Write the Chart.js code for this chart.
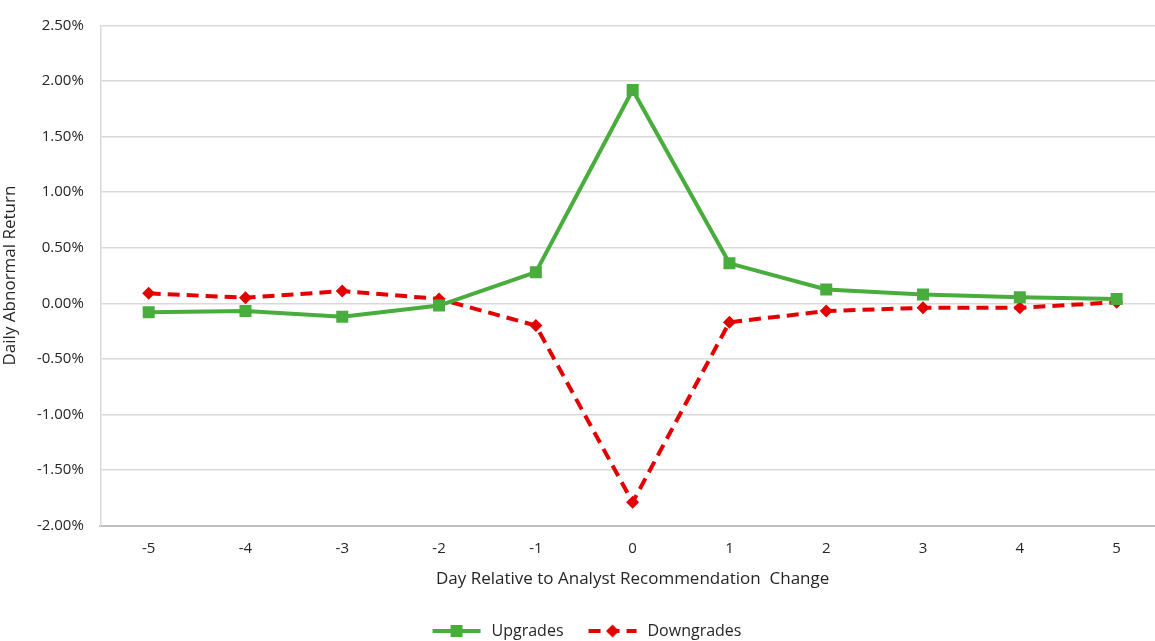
<!DOCTYPE html>
<html>
<head>
<meta charset="utf-8">
<script src="https://cdn.jsdelivr.net/npm/chart.js@4"></script>
<style>
  html, body { margin: 0; padding: 0; background: #fff; overflow: hidden; }
  #wrap { width: 1165px; height: 641px; }
</style>
</head>
<body>
<div id="wrap"><canvas id="chart"></canvas></div>
<script>
const days = ['-5', '-4', '-3', '-2', '-1', '0', '1', '2', '3', '4', '5'];
const upgrades = [-0.08, -0.07, -0.12, -0.02, 0.28, 1.92, 0.36, 0.125, 0.08, 0.055, 0.04];
const downgrades = [0.09, 0.05, 0.11, 0.04, -0.2, -1.79, -0.17, -0.07, -0.04, -0.04, 0.01];

const GREEN = '#48ad3c';
const RED = '#e30000';
const TEXT = '#262626';
const FONT = 'Open Sans';
const DASH = [12, 7];

// legend swatch: line with marker in the middle
function swatch(color, dashed, marker) {
  const c = document.createElement('canvas');
  c.width = 60; c.height = 16;
  const ctx = c.getContext('2d');
  ctx.strokeStyle = color;
  ctx.lineWidth = 4;
  if (dashed) ctx.setLineDash(DASH);
  ctx.beginPath();
  ctx.moveTo(9, 8); ctx.lineTo(57, 8);
  ctx.stroke();
  ctx.fillStyle = color;
  if (marker === 'square') {
    ctx.fillRect(27, 2, 12, 12);
  } else {
    ctx.beginPath();
    ctx.moveTo(33, 1.5); ctx.lineTo(39.5, 8); ctx.lineTo(33, 14.5); ctx.lineTo(26.5, 8);
    ctx.closePath(); ctx.fill();
  }
  return c;
}

new Chart(document.getElementById('chart'), {
  type: 'line',
  data: {
    labels: days,
    datasets: [
      {
        label: 'Upgrades',
        data: upgrades,
        borderColor: GREEN,
        backgroundColor: GREEN,
        borderWidth: 4,
        pointStyle: 'rect',
        pointRadius: 8.5,
        pointBorderWidth: 0,
        tension: 0,
      },
      {
        label: 'Downgrades',
        data: downgrades,
        borderColor: RED,
        backgroundColor: RED,
        borderWidth: 4,
        borderDash: DASH,
        pointStyle: 'rectRot',
        pointRadius: 6.5,
        pointBorderWidth: 0,
        tension: 0,
      }
    ]
  },
  options: {
    responsive: true,
    maintainAspectRatio: false,
    animation: false,
    layout: { autoPadding: false, padding: { top: 6, left: 0, right: 0, bottom: -8 } },
    plugins: {
      tooltip: { enabled: false },
      legend: {
        position: 'bottom',
        labels: {
          usePointStyle: true,
          pointStyleWidth: 60,
          color: TEXT,
          font: { size: 16, family: FONT },
          padding: 16,
          generateLabels: chart => chart.data.datasets.map((ds, i) => ({
            text: ds.label,
            fontColor: TEXT,
            pointStyle: swatch(ds.borderColor, i === 1, i === 0 ? 'square' : 'diamond'),
            datasetIndex: i,
            lineWidth: 0,
          }))
        }
      }
    },
    scales: {
      x: {
        offset: true,
        grid: { display: false },
        border: { color: '#bfbfbf', width: 2 },
        ticks: { color: TEXT, font: { size: 15, family: FONT, lineHeight: 1 }, padding: 8 },
        title: {
          display: true,
          text: 'Day Relative to Analyst Recommendation  Change',
          color: TEXT,
          font: { size: 17, family: FONT },
          padding: { top: 4, bottom: 18 }
        }
      },
      y: {
        min: -2,
        max: 2.5,
        ticks: {
          stepSize: 0.5,
          color: TEXT,
          font: { size: 15, family: FONT },
          padding: 16.5,
          callback: v => v.toFixed(2) + '%'
        },
        grid: { color: '#d9d9d9', lineWidth: 1.5, drawTicks: false },
        border: { color: '#d9d9d9', width: 1.5 },
        title: {
          display: true,
          text: 'Daily Abnormal Return',
          color: TEXT,
          font: { size: 17, family: FONT },
          padding: { top: 0, bottom: 0 }
        }
      }
    }
  }
});
</script>
</body>
</html>
